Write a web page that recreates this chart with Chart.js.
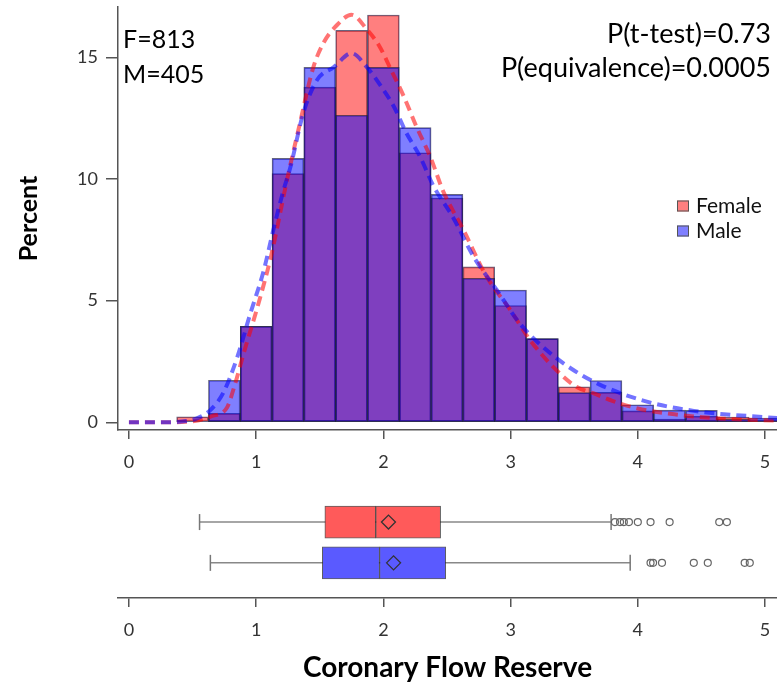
<!DOCTYPE html>
<html>
<head>
<meta charset="utf-8">
<script src="https://cdn.jsdelivr.net/npm/chart.js@4.4.1/dist/chart.umd.min.js"></script>
<style>
  html, body { margin: 0; padding: 0; background: #fff; }
  #wrap { position: relative; width: 777px; height: 686px; }
  #hist { position: absolute; left: 0; top: 0; }
  #box { position: absolute; left: 0; top: 480px; }
</style>
</head>
<body>
<div id="wrap">
  <canvas id="hist" width="777" height="480"></canvas>
  <canvas id="box" width="777" height="206"></canvas>
</div>
<script>
// histogram bins (bin width 0.25), percent of each group
const binCenters = [0.5, 0.75, 1.0, 1.25, 1.5, 1.75, 2.0, 2.25, 2.5, 2.75, 3.0, 3.25, 3.5, 3.75, 4.0, 4.25, 4.5, 4.75, 5.0];
const femalePercent = [0.23, 0.37, 3.95, 10.22, 13.78, 16.11, 16.74, 11.08, 9.22, 6.39, 4.80, 3.44, 1.46, 1.23, 0.47, 0.13, 0.25, 0.21, 0.08];
const malePercent = [0, 1.73, 3.95, 10.85, 14.59, 12.62, 14.59, 12.11, 9.37, 5.92, 5.44, 3.44, 1.22, 1.72, 0.72, 0.50, 0.49, 0.12, 0.17];

// density curves
const femaleCurveX = [0, 0.3, 0.45, 0.55, 0.65, 0.77, 0.83, 0.9, 1.03, 1.12, 1.24, 1.34, 1.45, 1.53, 1.63, 1.75, 1.87, 1.97, 2.05, 2.16, 2.26, 2.37, 2.47, 2.63, 2.81, 3.0, 3.15, 3.34, 3.52, 3.65, 3.8, 4.0, 4.3, 4.6, 5.1];
const femaleCurveY = [0, 0, 0.02, 0.08, 0.25, 0.6, 1.5, 2.8, 5.1, 6.9, 9.9, 12.2, 14.6, 15.6, 16.3, 16.75, 16.15, 15.45, 14.6, 13.4, 12.15, 10.9, 9.5, 7.9, 6.0, 4.6, 3.4, 2.25, 1.45, 1.2, 0.88, 0.57, 0.32, 0.17, 0.07];
const maleCurveX = [0, 0.3, 0.45, 0.53, 0.64, 0.74, 0.85, 0.95, 1.06, 1.13, 1.21, 1.27, 1.37, 1.48, 1.61, 1.75, 1.87, 1.97, 2.08, 2.18, 2.29, 2.39, 2.55, 2.71, 2.89, 3.07, 3.28, 3.49, 3.7, 4.05, 4.44, 5.1];
const maleCurveY = [0, 0, 0.05, 0.15, 0.5, 1.2, 2.65, 4.4, 6.25, 7.8, 9.45, 10.5, 12.7, 14.08, 14.6, 15.17, 14.6, 13.9, 13.0, 11.9, 10.9, 9.75, 8.4, 6.8, 5.45, 4.08, 2.98, 2.16, 1.55, 0.88, 0.47, 0.17];

// box plots: min, q1, median, q3, max
const groups = ['Female', 'Male'];
const femaleBox = [0.555, 1.54, 1.94, 2.45, 3.79];
const maleBox = [0.64, 1.52, 1.97, 2.49, 3.94];
const femaleMean = 2.04;
const maleMean = 2.08;
const femaleOutliers = [3.82, 3.86, 3.89, 3.93, 4.00, 4.10, 4.25, 4.64, 4.70];
const maleOutliers = [4.10, 4.12, 4.19, 4.44, 4.55, 4.84, 4.88];

const xTicks = [0, 1, 2, 3, 4, 5];
const yTicks = [0, 5, 10, 15];

const FONT = 'Lato';
const RED = 'rgba(255,0,0,0.5)';
const BLUE = 'rgba(0,0,255,0.5)';

const toPoints = (xs, ys) => xs.map((x, i) => ({ x: x, y: ys[i] }));
const noPadding = (s) => { s.paddingLeft = 0; s.paddingRight = 0; s.paddingTop = 0; s.paddingBottom = 0; };

const xAxis = (height, extra) => Object.assign({
  type: 'linear',
  min: -0.086,
  max: 5.094,
  offset: false,
  afterBuildTicks: (s) => { s.ticks = xTicks.map((v) => ({ value: v })); },
  afterFit: (s) => { s.height = height; noPadding(s); },
  grid: { drawOnChartArea: false, drawTicks: true, tickLength: 9, color: '#555', lineWidth: 1.5, offset: false },
  border: { display: true, color: '#555', width: 1.5 },
  ticks: { color: '#333', font: { family: FONT, size: 18 }, maxRotation: 0, padding: 12 },
}, extra);

const annotations = {
  id: 'annotations',
  afterDraw(chart) {
    const ctx = chart.ctx;
    ctx.save();
    ctx.fillStyle = '#000';
    ctx.textBaseline = 'alphabetic';
    ctx.textAlign = 'left';
    ctx.font = '25px ' + FONT;
    ctx.fillText('F=813', 123, 48);
    ctx.fillText('M=405', 123, 83);
    ctx.textAlign = 'right';
    ctx.font = '27px ' + FONT;
    ctx.fillText('P(t-test)=0.73', 771, 43);
    ctx.fillText('P(equivalence)=0.0005', 771, 77);

    // legend
    ctx.textAlign = 'left';
    ctx.textBaseline = 'middle';
    ctx.font = '21px ' + FONT;
    [[RED, 'Female', 206], [BLUE, 'Male', 231]].forEach(([c, t, y]) => {
      ctx.fillStyle = c;
      ctx.fillRect(677, y - 5.5, 12, 11);
      ctx.strokeStyle = '#555';
      ctx.lineWidth = 1;
      ctx.strokeRect(677.5, y - 5, 11, 10);
      ctx.fillStyle = '#111';
      ctx.fillText(t, 696, y);
    });
    ctx.restore();
  }
};

new Chart(document.getElementById('hist'), {
  type: 'bar',
  plugins: [annotations],
  data: {
    datasets: [
      {
        type: 'line', label: 'Male density', data: toPoints(maleCurveX, maleCurveY),
        borderColor: 'rgba(0,0,255,0.55)', borderWidth: 4, borderDash: [10, 6],
        pointRadius: 0, pointHoverRadius: 0, cubicInterpolationMode: 'monotone', fill: false, order: 0,
      },
      {
        type: 'line', label: 'Female density', data: toPoints(femaleCurveX, femaleCurveY),
        borderColor: 'rgba(255,0,0,0.55)', borderWidth: 4, borderDash: [10, 6],
        pointRadius: 0, pointHoverRadius: 0, cubicInterpolationMode: 'monotone', fill: false, order: 1,
      },
      {
        label: 'Male', data: toPoints(binCenters, malePercent),
        backgroundColor: BLUE, borderColor: 'rgba(20,20,60,0.65)', borderWidth: 1,
        borderSkipped: false, grouped: false, barPercentage: 1, categoryPercentage: 1, order: 2,
      },
      {
        label: 'Female', data: toPoints(binCenters, femalePercent),
        backgroundColor: RED, borderColor: 'rgba(20,20,60,0.65)', borderWidth: 1,
        borderSkipped: false, grouped: false, barPercentage: 1, categoryPercentage: 1, order: 3,
      },
    ],
  },
  options: {
    responsive: false,
    animation: false,
    layout: { autoPadding: false, padding: { top: 7, left: 0, right: 0, bottom: 0 } },
    plugins: { legend: { display: false }, tooltip: { enabled: false } },
    scales: {
      x: xAxis(50),
      y: {
        type: 'linear',
        min: -0.316,
        max: 17.07,
        afterBuildTicks: (s) => { s.ticks = yTicks.map((v) => ({ value: v })); },
        grid: { drawOnChartArea: false, drawTicks: true, tickLength: 12, color: '#555', lineWidth: 1.5 },
        border: { display: true, color: '#555', width: 1.5 },
        ticks: { color: '#333', font: { family: FONT, size: 18 }, padding: 8 },
        title: {
          display: true, text: 'Percent', color: '#000',
          font: { family: FONT, size: 25, weight: 'bold' }, padding: { top: 14, bottom: 0 },
        },
        afterFit: (s) => { s.width = 118; noPadding(s); },
      },
    },
  },
});

// box plot panel: one row per group
const rowOf = (name) => groups.length - groups.indexOf(name);
const boxSets = [
  ['Female', femaleBox, femaleMean, femaleOutliers, '#ff5a5a'],
  ['Male', maleBox, maleMean, maleOutliers, '#5a5aff'],
];
const boxDatasets = [];
boxSets.forEach(([name, b, mean, outs, color]) => {
  const row = rowOf(name);
  boxDatasets.push({
    type: 'bar', label: name + ' box', indexAxis: 'y',
    data: [{ y: row, x: [b[1], b[2]] }, { y: row, x: [b[2], b[3]] }],
    backgroundColor: color, borderColor: 'rgba(40,40,40,0.75)', borderWidth: 1,
    borderSkipped: false, barThickness: 32, grouped: false, order: 2,
  });
  boxDatasets.push({
    type: 'line', label: name + ' whiskers',
    data: [{ x: b[0], y: row }, { x: b[4], y: row }],
    borderColor: '#888', borderWidth: 1.5,
    pointStyle: 'line', pointRotation: 90, pointRadius: 8, pointHoverRadius: 8,
    pointBorderColor: '#777', pointBorderWidth: 1.5, order: 3,
  });
  boxDatasets.push({
    type: 'scatter', label: name + ' mean', data: [{ x: mean, y: row }],
    pointStyle: 'rectRot', pointRadius: 7, pointHoverRadius: 7, pointBorderColor: '#333',
    pointBackgroundColor: 'rgba(0,0,0,0)', pointBorderWidth: 1.3, order: 0,
  });
  boxDatasets.push({
    type: 'scatter', label: name + ' outliers', data: outs.map((v) => ({ x: v, y: row })),
    pointStyle: 'circle', pointRadius: 3.5, pointHoverRadius: 3.5, pointBorderColor: '#666',
    pointBackgroundColor: 'rgba(255,255,255,0)', pointBorderWidth: 1.2, order: 1,
  });
});

new Chart(document.getElementById('box'), {
  type: 'bar',
  data: { datasets: boxDatasets },
  options: {
    responsive: false,
    animation: false,
    layout: { autoPadding: false, padding: { top: 0, left: 118, right: 0, bottom: 0 } },
    plugins: { legend: { display: false }, tooltip: { enabled: false } },
    scales: {
      x: xAxis(88, {
        title: {
          display: true, text: 'Coronary Flow Reserve', color: '#000',
          font: { family: FONT, size: 28, weight: 'bold' }, padding: { top: 0, bottom: 1 },
        },
      }),
      y: { type: 'linear', min: 0.38, max: 2.79, display: false },
    },
  },
});
</script>
</body>
</html>
